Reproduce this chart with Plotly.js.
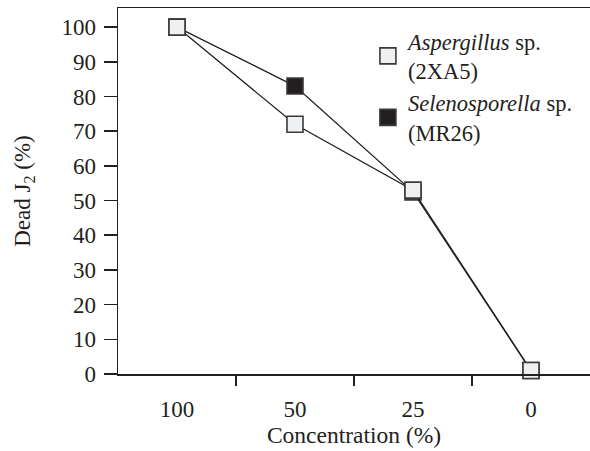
<!DOCTYPE html>
<html>
<head>
<meta charset="utf-8">
<script src="https://cdn.plot.ly/plotly-3.0.1.min.js"></script>
<style>html,body{margin:0;padding:0;background:#fff;}#chart{width:590px;height:451px;}</style>
</head>
<body>
<div id="chart"></div>
<script>
const categories = ["100", "50", "25", "0"];
const aspergillus = [100, 72, 53, 1];
const selenosporella = [100, 83, 52.5, 1];
const seriesNames = ["<i>Aspergillus</i> sp.<br>(2XA5)", "<i>Selenosporella</i> sp.<br>(MR26)"];
const yTicks = [0, 10, 20, 30, 40, 50, 60, 70, 80, 90, 100];
const xBoundaryTicks = [0.5, 1.5, 2.5];

const ink = "#231f20";
const font = {family: "Liberation Serif", size: 23, color: ink};
const legendFont = {family: "Liberation Serif", size: 22.5, color: ink};
const whiteMarker = {symbol: "square", size: 16, color: "#eff0f2", line: {color: "#3a3a3a", width: 1.6}};
const blackMarker = {symbol: "square", size: 16, color: "#231f20", line: {color: "#3a3a3a", width: 1.6}};

const traces = [
  {x: categories, y: selenosporella, type: "scatter", mode: "lines+markers", showlegend: false,
   line: {color: ink, width: 1.3}, marker: blackMarker, cliponaxis: false},
  {x: categories, y: aspergillus, type: "scatter", mode: "lines+markers", showlegend: false,
   line: {color: ink, width: 1.3}, marker: whiteMarker, cliponaxis: false},
  {x: [null], y: [null], type: "scatter", mode: "markers", name: seriesNames[0], marker: whiteMarker, legendrank: 1},
  {x: [null], y: [null], type: "scatter", mode: "markers", name: seriesNames[1], marker: blackMarker, legendrank: 2},
  {x: [null], y: [null], type: "scatter", mode: "markers", xaxis: "x2", showlegend: false, hoverinfo: "skip"}
];

const layout = {
  width: 590, height: 451,
  margin: {l: 118, r: 0, t: 8, b: 77},
  paper_bgcolor: "#fff", plot_bgcolor: "#fff",
  font: font,
  showlegend: true,
  legend: {x: 0.5295, y: 0.967, xanchor: "left", yanchor: "top", bgcolor: "rgba(0,0,0,0)",
           borderwidth: 0, font: legendFont, tracegroupgap: 0, itemsizing: "trace"},
  xaxis: {
    type: "category", categoryorder: "array", categoryarray: categories,
    range: [-0.5, 3.5], fixedrange: true,
    showline: true, mirror: true, linecolor: ink, linewidth: 1.5,
    ticks: "", ticklabelstandoff: 14,
    showgrid: false, zeroline: false, tickfont: font,
    title: {text: "Concentration (%)", font: {family: "Liberation Serif", size: 23.5, color: ink}, standoff: 4}
  },
  xaxis2: {
    overlaying: "x", anchor: "y", side: "bottom", range: [-0.5, 3.5],
    tickvals: xBoundaryTicks, showticklabels: false,
    ticks: "outside", ticklen: 11, tickwidth: 1.5, tickcolor: ink,
    showline: false, showgrid: false, zeroline: false, fixedrange: true
  },
  yaxis: {
    range: [0, 105.5], tickvals: yTicks, ticktext: yTicks.map(String),
    showline: true, linecolor: ink, linewidth: 1.5,
    ticks: "outside", ticklen: 13, tickwidth: 1.5, tickcolor: ink, ticklabelstandoff: 3,
    showgrid: false, zeroline: false, tickfont: font,
    title: {text: "Dead J<sub>2</sub> (%)", font: font, standoff: 24}
  }
};

Plotly.newPlot("chart", traces, layout, {displayModeBar: false, staticPlot: true});
</script>
</body>
</html>
